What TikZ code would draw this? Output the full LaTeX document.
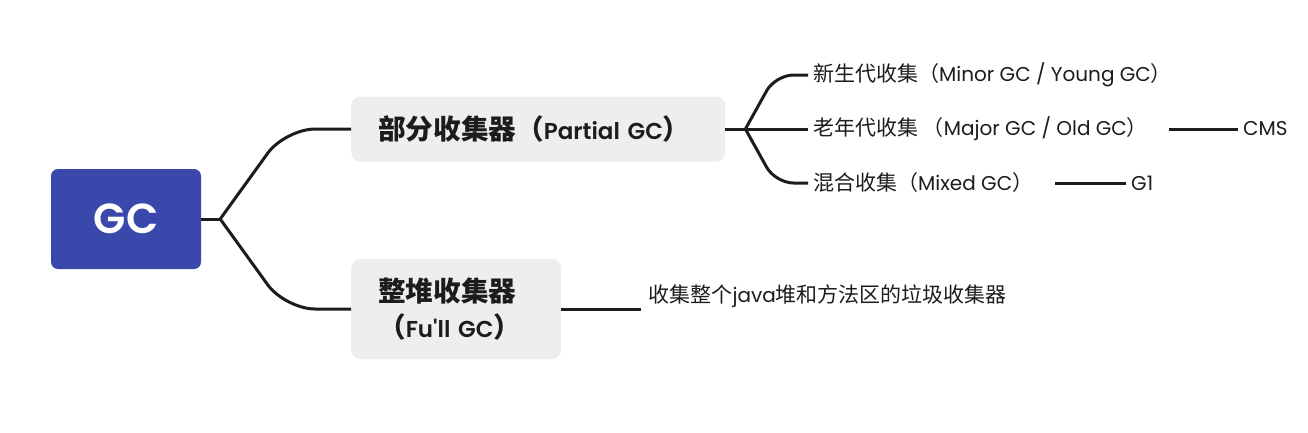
\documentclass[tikz,border=0pt]{standalone}
\usepackage{fontspec}
\setmainfont{Poppins}
\newfontfamily\cjk{Noto Sans CJK SC}[Scale=1.05]
\newfontfamily\cjkbig{Noto Sans CJK SC}[Scale=1.2]
\newfontfamily\semifont{Poppins SemiBold}
\usetikzlibrary{calc}
\definecolor{rootblue}{HTML}{3A48AC}
\definecolor{boxgray}{HTML}{EEEEEE}
\definecolor{inkdark}{HTML}{1C1C1C}
\newcommand{\zh}[1]{{\cjk #1}}
\newcommand{\zhb}[1]{{\cjkbig\bfseries #1}}
\tikzset{
  rootbox/.style  = {fill=rootblue,rounded corners=7pt,text=white,
                     font=\semifont\fontsize{42}{48}\selectfont,
                     minimum width=150pt,minimum height=100pt,inner sep=0pt},
  catbox/.style   = {fill=boxgray,rounded corners=9pt,text=inkdark,anchor=west,
                     font=\semifont\fontsize{23}{36}\selectfont,
                     align=left,inner xsep=27pt,inner ysep=0pt},
  leaftext/.style = {text=inkdark,font=\fontsize{20}{24}\selectfont,
                     anchor=west,inner xsep=5pt,inner ysep=2pt},
  branch/.style   = {draw=inkdark,line width=3pt,rounded corners=30pt},
  twig/.style     = {draw=inkdark,line width=3pt,rounded corners=18pt},
  leafline/.style = {draw=inkdark,line width=3pt}
}

\begin{document}
\begin{tikzpicture}[x=1pt,y=-1pt]
  \useasboundingbox (0,0) rectangle (1308,432);
  % root and the two groups
  \node[rootbox] (gc) at (126,219) {GC};
  \node[catbox,text width=320pt,minimum height=65pt] (partial) at (351,129)
    {\zhb{部分收集器（}Partial GC\zhb{）}};
  \node[catbox,text width=156pt,minimum height=100pt] (full) at (351,309)
    {\zhb{整堆收集器}\\\zhb{（}Fu\textquotesingle ll GC\zhb{）}};
  \coordinate (gcfork) at ($(gc.east)+(19,0)$);
  \draw[leafline] (gc.east) -- (gcfork);
  \draw[branch] (gcfork) -- ($(gcfork |- partial.west)+(65,0)$) -- (partial.west);
  \draw[branch] (gcfork) -- ($(gcfork |- full.west)+(65,0)$) -- (full.west);

  % partial collectors
  \node[leaftext] (young) at (808,75)  {\zh{新生代收集（}Minor GC / Young GC\zh{）}};
  \node[leaftext] (old)   at (808,129) {\zh{老年代收集 （}Major GC / Old GC\zh{）}};
  \node[leaftext] (mixed) at (808,183) {\zh{混合收集（}Mixed GC\zh{）}};
  \coordinate (pfork) at ($(partial.east)+(20,0)$);
  \draw[leafline] (partial.east) -- (pfork) -- (old.west);
  \draw[twig] (pfork) -- ($(pfork |- young.west)+(30,0)$) -- (young.west);
  \draw[twig] (pfork) -- ($(pfork |- mixed.west)+(30,0)$) -- (mixed.west);

  \node[leaftext] (cms) at (1238,129) {CMS};
  \node[leaftext] (gone) at (1126,183) {G1};
  \draw[leafline,shorten <=16pt] (old.east) -- (cms.west);
  \draw[leafline,shorten <=17pt] (mixed.east) -- (gone.west);

  % full collector
  \coordinate (fullend) at ($(full.east)+(80,0)$);
  \draw[leafline] (full.east) -- (fullend);
  \node[leaftext] (fulldesc) at ($(fullend)+(2,-13)$)
    {\zh{收集整个}java\zh{堆和方法区的垃圾收集器}};
\end{tikzpicture}
\end{document}
